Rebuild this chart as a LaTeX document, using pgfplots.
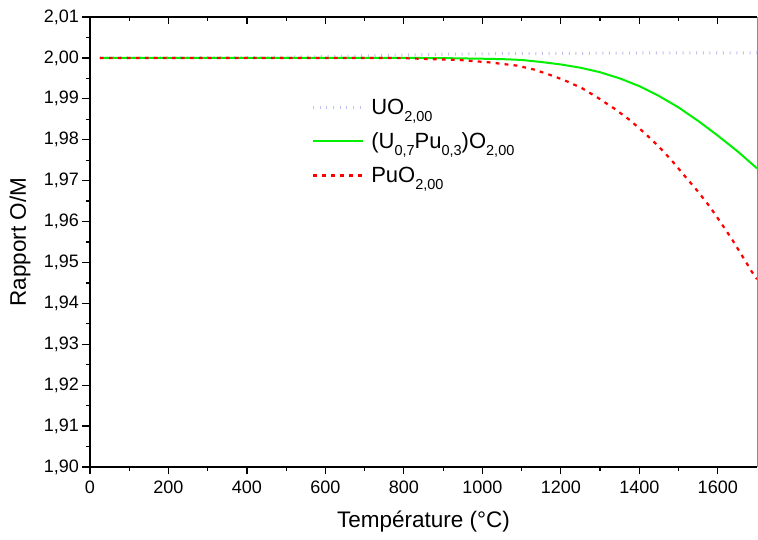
\documentclass[border=0pt]{standalone}
\usepackage{pgfplots}
\pgfplotsset{compat=1.18}
\usepackage{fontspec}
\setmainfont{Liberation Sans}
\definecolor{uoc}{RGB}{190,190,240}
\definecolor{grn}{RGB}{0,240,0}
\definecolor{rd}{RGB}{255,0,0}
\newcommand{\sub}[1]{\raisebox{-7pt}{\fontsize{14.5}{14.5}\selectfont #1}}
\begin{document}
\begin{tikzpicture}
\pgfplotsset{
  common/.style={
    scale only axis, width=667pt, height=450pt,
    xmin=0, xmax=1700, ymin=1.90, ymax=2.01,
    xtick={0,200,400,600,800,1000,1200,1400,1600},
    ytick={1.90,1.91,1.92,1.93,1.94,1.95,1.96,1.97,1.98,1.99,2.00,2.01},
    minor x tick num=1, minor y tick num=1,
    major tick length=7.5pt, minor tick length=4pt,
    axis line style={line width=1.2pt, black},
    tick style={line width=1.2pt, black},
    /pgf/number format/assume math mode=true,
  }
}
\begin{axis}[common, name=main,
  axis x line*=bottom, axis y line*=left, tick align=outside,
  ticklabel style={font=\fontsize{18}{21}\selectfont},
  xticklabel style={/pgf/number format/1000 sep={}, yshift=-3pt},
  yticklabel style={/pgf/number format/.cd, fixed, fixed zerofill, precision=2, use comma},
  xlabel={Température (°C)}, ylabel={Rapport O/M},
  label style={font=\fontsize{22.5}{26}\selectfont},
  xlabel style={at={(axis description cs:0.5,-0.122)}, anchor=center},
  ylabel style={at={(axis description cs:-0.105,0.5)}, anchor=center},
  legend image code/.code={\draw[#1] (0pt,0pt) -- (50pt,0pt); \path (0pt,0pt) (55pt,0pt);},
  legend style={at={(axis description cs:0.3315,0.823)}, anchor=north west,
    draw=none, fill=none, font=\fontsize{22}{26}\selectfont, row sep=13pt,
    inner sep=0pt},
  legend cell align=left,
]
\addplot[color=uoc, line width=3pt, dash pattern=on 1pt off 5.7pt] coordinates {
(25,2.0000) (200,2.0000) (400,2.0001) (600,2.0003) (700,2.0005) (800,2.0007)
(900,2.0009) (1000,2.0010) (1200,2.0011) (1400,2.0012) (1700,2.0012)
};
\addlegendentry{UO\sub{2,00}}
\addplot[color=grn, line width=2pt] coordinates {
(25,2.0000) (200,2.0000) (400,2.0000) (600,2.0000) (800,2.0000) (900,1.99995)
(1000,1.9998) (1050,1.9997) (1100,1.9995) (1150,1.9990) (1200,1.9984)
(1250,1.9976) (1300,1.9965) (1350,1.9950) (1400,1.9931) (1450,1.9907)
(1500,1.9879) (1550,1.9846) (1600,1.9810) (1650,1.9772) (1700,1.9730)
};
\addlegendentry{(U\sub{0,7}Pu\sub{0,3})O\sub{2,00}}
\addplot[color=rd, line width=2.2pt, dash pattern=on 3.8pt off 5.2pt] coordinates {
(25,2.0000) (200,2.0000) (400,2.0000) (600,2.0000) (789,1.99995) (941,1.9995)
(1018,1.9989) (1089,1.9981) (1130,1.9972) (1162,1.9962) (1208,1.9946)
(1254,1.9926) (1297,1.9901) (1338,1.9875) (1376,1.9848) (1414,1.9816)
(1450,1.9783) (1483,1.9749) (1516,1.9711) (1549,1.9674) (1580,1.9636)
(1608,1.9597) (1636,1.9557) (1661,1.9518) (1687,1.9477) (1700,1.9459)
};
\addlegendentry{PuO\sub{2,00}}
\end{axis}
\begin{axis}[common,
  axis x line*=top, axis y line*=right, tick align=inside,
  xticklabels={}, ytick=\empty,
  y axis line style={line width=1pt, black!45},
]
\end{axis}
\path (main.south west) +(-90pt,-73pt) (main.north east) +(1pt,17pt);
\end{tikzpicture}
\end{document}
